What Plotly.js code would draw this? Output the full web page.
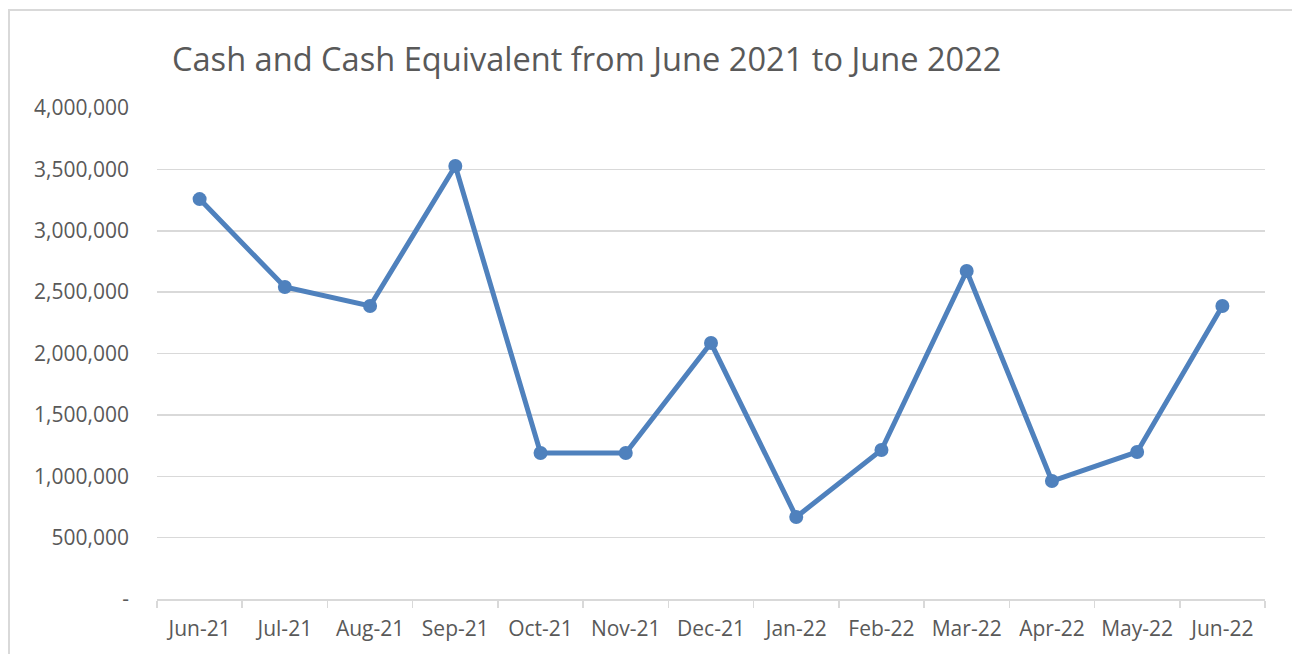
<!DOCTYPE html>
<html>
<head>
<meta charset="utf-8">
<script src="https://cdn.plot.ly/plotly-3.0.1.min.js"></script>
<style>
  html, body { margin: 0; padding: 0; background: #fff; }
  #wrap { position: relative; width: 1292px; height: 654px; overflow: hidden; }
  #chart { position: absolute; left: 0; top: 0; width: 1292px; height: 654px; }
  #frame { position: absolute; left: 8px; top: 9px; width: 1400px; height: 800px;
           border-top: 2px solid #d9d9d9; border-left: 2px solid #d9d9d9; pointer-events: none; }
</style>
</head>
<body>
<div id="wrap">
  <div id="chart"></div>
  <div id="frame"></div>
</div>
<script>
const months = ["Jun-21","Jul-21","Aug-21","Sep-21","Oct-21","Nov-21","Dec-21","Jan-22","Feb-22","Mar-22","Apr-22","May-22","Jun-22"];
const cash = [3258000, 2542000, 2387000, 3527000, 1189000, 1189000, 2085000, 668000, 1214000, 2672000, 961000, 1198000, 2387000];
const yTickVals = [0, 500000, 1000000, 1500000, 2000000, 2500000, 3000000, 3500000, 4000000];
const yTickText = ["-", "500,000", "1,000,000", "1,500,000", "2,000,000", "2,500,000", "3,000,000", "3,500,000", "4,000,000"];
const chartTitle = "Cash and Cash Equivalent from June 2021 to June 2022";

const trace = {
  x: months,
  y: cash,
  type: "scatter",
  mode: "lines+markers",
  line: { color: "#4f81bd", width: 5 },
  marker: { color: "#4f81bd", size: 14 },
  hoverinfo: "x+y"
};

const font = "'Open Sans', sans-serif";
const layout = {
  width: 1292,
  height: 654,
  margin: { l: 157, r: 27, t: 108, b: 55 },
  paper_bgcolor: "#ffffff",
  plot_bgcolor: "#ffffff",
  showlegend: false,
  title: {
    text: chartTitle,
    font: { family: font, size: 32.6, color: "#595959" },
    xref: "container", yref: "container",
    x: 172 / 1292, xanchor: "left",
    y: 1 - 60 / 654, yanchor: "middle"
  },
  xaxis: {
    type: "category",
    range: [-0.5, months.length - 0.5],
    showgrid: false,
    showline: true,
    linecolor: "#d9d9d9",
    linewidth: 1.5,
    ticks: "outside",
    tickson: "boundaries",
    ticklen: 7,
    tickcolor: "#d9d9d9",
    tickwidth: 1.5,
    ticklabelstandoff: 10,
    tickfont: { family: font, size: 21, color: "#595959" },
    zeroline: false,
    fixedrange: true
  },
  yaxis: {
    range: [0, 4000000],
    tickmode: "array",
    tickvals: yTickVals,
    ticktext: yTickText,
    showgrid: true,
    gridcolor: "#d9d9d9",
    gridwidth: 1.5,
    showline: false,
    zeroline: false,
    ticks: "",
    ticklabelstandoff: 27,
    tickfont: { family: font, size: 21, color: "#595959" },
    fixedrange: true
  }
};

Plotly.newPlot("chart", [trace], layout, { displayModeBar: false, staticPlot: true });
</script>
</body>
</html>
